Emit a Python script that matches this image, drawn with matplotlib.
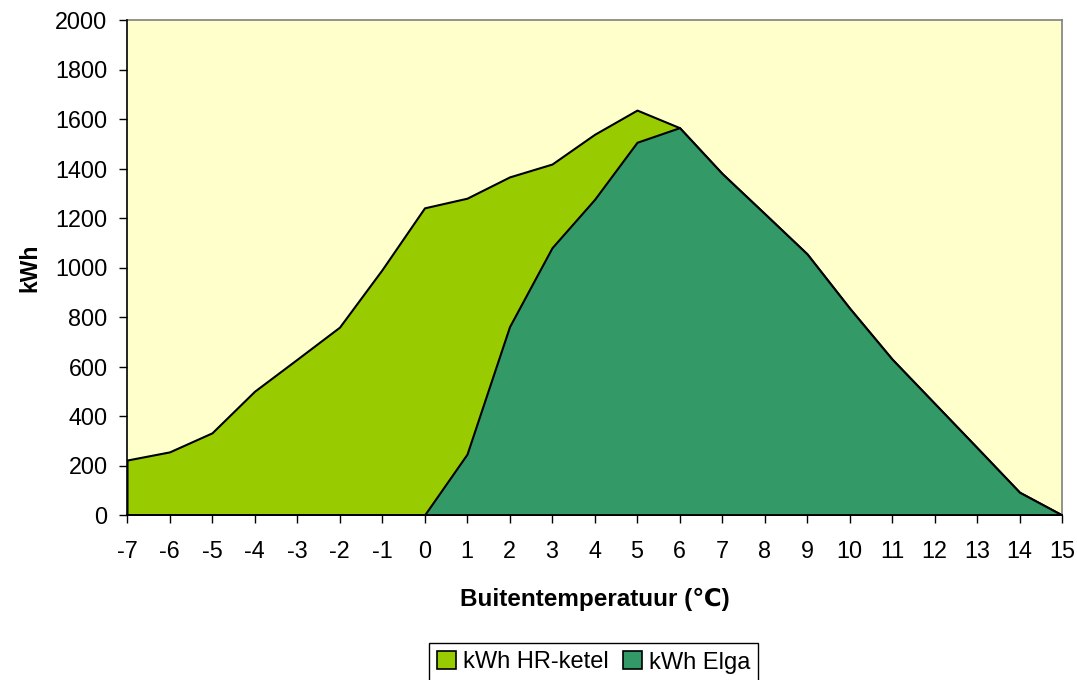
import matplotlib
matplotlib.use("Agg")
import matplotlib.pyplot as plt
from matplotlib.patches import Patch

plt.rcParams['font.family'] = ['Liberation Sans', 'DejaVu Sans']

temps = [-7, -6, -5, -4, -3, -2, -1, 0, 1, 2, 3, 4, 5, 6, 7, 8, 9, 10, 11, 12, 13, 14, 15]
hr_ketel_total = [222, 255, 332, 500, 629, 759, 991, 1241, 1280, 1366, 1418, 1538, 1636,
                  1565, 1380, 1218, 1055, 836, 630, 451, 272, 92, 0]
elga = [0, 0, 0, 0, 0, 0, 0, 0, 246, 761, 1080, 1275, 1506,
        1565, 1380, 1218, 1055, 836, 630, 451, 272, 92, 0]
series_names = ['kWh HR-ketel', 'kWh Elga']
colors = ['#99CC00', '#339966']

fig = plt.figure(figsize=(10.77, 6.8), dpi=100)
ax = fig.add_axes([127/1077, 1 - 515/680, (1062-127)/1077, (515-20)/680])
ax.set_facecolor('#FFFFCC')

ax.fill_between(temps, 0, hr_ketel_total, facecolor=colors[0], edgecolor='black', linewidth=1.5, zorder=2)
ax.fill_between(temps, 0, elga, facecolor=colors[1], edgecolor='black', linewidth=1.5, zorder=3)

ax.set_xlim(-7, 15)
ax.set_ylim(0, 2000)
ax.set_xticks(temps)
ax.set_xticklabels([str(t) for t in temps])
ax.set_yticks(range(0, 2001, 200))
ax.tick_params(axis='both', direction='out', length=6, width=1, labelsize=16.8, colors='black')
ax.tick_params(axis='x', pad=12)
ax.tick_params(axis='y', pad=8)

for s in ['top', 'right']:
    ax.spines[s].set_color('#808080')
    ax.spines[s].set_linewidth(1.2)
for s in ['left', 'bottom']:
    ax.spines[s].set_color('black')
    ax.spines[s].set_linewidth(1.2)
    ax.spines[s].set_zorder(5)

ax.set_xlabel('Buitentemperatuur (℃)', fontsize=17.5, fontweight='bold', labelpad=18)
ax.set_ylabel('kWh', fontsize=16.5, fontweight='bold', labelpad=10)

handles = [Patch(facecolor=c, edgecolor='black', linewidth=1.2) for c in colors]
leg = fig.legend(handles, series_names, loc='upper center', bbox_to_anchor=(0.551, 1 - 643/680),
                 ncol=2, fontsize=17, frameon=True, fancybox=False, edgecolor='black',
                 framealpha=1, handlelength=0.8, handleheight=0.8, handletextpad=0.3,
                 columnspacing=0.6, borderpad=0.35, borderaxespad=0)
leg.get_frame().set_linewidth(1.0)

fig.savefig('out.png', dpi=100)
